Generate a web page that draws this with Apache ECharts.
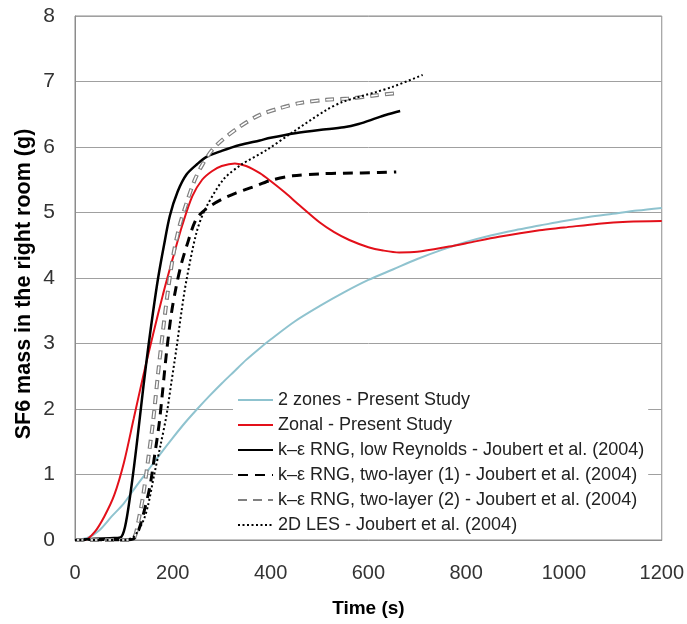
<!DOCTYPE html>
<html><head><meta charset="utf-8">
<script src="https://cdn.jsdelivr.net/npm/echarts@6/dist/echarts.min.js"></script>
<style>html,body{margin:0;padding:0;background:#fff}#c{width:687px;height:624px}</style>
</head><body><div id="c"></div>
<script>
// Data arrays: [time (s), SF6 mass (g)]
const twoZones = [[0,0],[25,0.03],[50,0.15],[75,0.36],[100,0.56],[125,0.82],[150,1.07],[175,1.32],[200,1.56],[225,1.79],[250,2.0],[275,2.2],[300,2.39],[325,2.57],[350,2.75],[375,2.91],[400,3.06],[450,3.34],[500,3.57],[550,3.78],[600,3.97],[650,4.13],[700,4.29],[750,4.43],[800,4.55],[850,4.65],[900,4.73],[950,4.8],[1000,4.87],[1050,4.93],[1100,4.98],[1150,5.03],[1200,5.07]];
const zonal = [[0,0],[20,0],[40,0.12],[60,0.36],[80,0.68],[100,1.18],[120,1.85],[140,2.52],[160,3.15],[180,3.75],[200,4.3],[220,4.82],[240,5.25],[260,5.5],[280,5.63],[300,5.71],[327,5.75],[350,5.71],[378,5.6],[400,5.48],[430,5.3],[459,5.11],[500,4.85],[530,4.7],[561,4.58],[600,4.47],[630,4.42],[663,4.39],[700,4.4],[765,4.48],[800,4.53],[867,4.63],[950,4.73],[1000,4.77],[1071,4.83],[1130,4.86],[1200,4.87]];
const lowRe = [[0,0],[40,0.02],[80,0.03],[95,0.05],[105,0.3],[119,1.02],[130,1.7],[140,2.35],[150,2.95],[160,3.5],[170,4.0],[182,4.5],[194,4.95],[210,5.32],[228,5.58],[250,5.74],[269,5.85],[300,5.94],[337,6.03],[378,6.1],[400,6.14],[450,6.21],[500,6.26],[550,6.3],[580,6.35],[616,6.44],[640,6.5],[665,6.55]];
const twoLayer1 = [[0,0],[100,0],[120,0.02],[130,0.15],[140,0.4],[153,0.81],[163,1.3],[173,1.83],[187,2.85],[197,3.45],[207,3.87],[217,4.2],[228,4.48],[248,4.9],[269,5.06],[300,5.2],[330,5.3],[364,5.39],[400,5.49],[445,5.56],[500,5.59],[550,5.6],[622,5.61],[657,5.62]];
const twoLayer2 = [[0,0],[110,0],[122,0.05],[130,0.3],[139,0.66],[150,1.25],[160,1.83],[170,2.55],[180,3.2],[190,3.8],[201,4.35],[214,4.8],[228,5.14],[245,5.5],[262,5.75],[280,5.95],[300,6.1],[337,6.31],[378,6.49],[418,6.59],[459,6.67],[513,6.72],[560,6.74],[616,6.79],[656,6.82]];
const les2D = [[0,0],[100,0],[120,0.05],[140,0.3],[150,0.55],[162,1.0],[175,1.45],[187,1.9],[197,2.4],[207,2.9],[218,3.5],[228,3.97],[248,4.68],[265,5.03],[303,5.5],[340,5.73],[391,5.95],[446,6.23],[513,6.56],[548,6.69],[616,6.84],[650,6.92],[711,7.1]];
const names = ['2 zones - Present Study','Zonal - Present Study','k\u2013\u03b5 RNG, low Reynolds - Joubert et al. (2004)','k\u2013\u03b5 RNG, two-layer (1) - Joubert et al. (2004)','k\u2013\u03b5 RNG, two-layer (2) - Joubert et al. (2004)','2D LES - Joubert et al. (2004)'];
const yTitle = 'SF6 mass in the right room (g)';
const xTitle = 'Time (s)';

const font = '"Liberation Sans", Arial, sans-serif';
const chart = echarts.init(document.getElementById('c'), null, {renderer:'canvas'});
function s(name, data, color, width, type, extra){
  return Object.assign({name, type:'line', data, symbol:'none', showSymbol:false, smooth:0.3,
    lineStyle:{color, width, type}, itemStyle:{color}, animation:false}, extra||{});
}
chart.setOption({
  animation:false,
  grid:{left:75, right:24, top:16, bottom:84, show:true, borderColor:'#8c8c8c', borderWidth:1},
  xAxis:{type:'value', min:0, max:1200, interval:200,
    name:xTitle, nameLocation:'middle', nameGap:59,
    nameTextStyle:{fontFamily:font, fontSize:19, fontWeight:'bold', color:'#000'},
    axisLine:{show:true, lineStyle:{color:'#8c8c8c'}}, axisTick:{show:false},
    axisLabel:{fontFamily:font, fontSize:20, color:'#333', margin:23, formatter:v=>String(v)},
    splitLine:{show:false}},
  yAxis:{type:'value', min:0, max:8, interval:1,
    axisLine:{show:true, lineStyle:{color:'#8c8c8c'}}, axisTick:{show:false},
    axisLabel:{fontFamily:font, fontSize:21, color:'#333', margin:20},
    splitLine:{show:true, lineStyle:{color:'#a0a0a0', width:1}}},
  graphic:[{type:'text', x:24, y:284, rotation:Math.PI/2,
    style:{text:yTitle, font:'bold 21.5px "Liberation Sans", Arial, sans-serif', fill:'#000', align:'center', verticalAlign:'middle'}}],
  legend:{orient:'vertical', left:233, top:389, itemWidth:35, itemHeight:18, itemGap:7,
    backgroundColor:'#fff', padding:[2,4,2,4], data:names, itemStyle:{opacity:0},
    textStyle:{fontFamily:font, fontSize:18, color:'#222'}},
  series:[
    s(names[0], twoZones, '#8fc3cf', 2, 'solid'),
    s(names[1], zonal, '#e3101a', 2, 'solid'),
    s(names[2], lowRe, '#000', 2.5, 'solid'),
    s(names[3], twoLayer1, '#000', 3, [10,7]),
    s(names[4], twoLayer2, '#808080', 4, [9,6]),
    s('tl2inner', twoLayer2, '#ffffff', 1.6, [7,8], {lineStyle:{color:'#fff', width:1.6, type:[7,8], dashOffset:-1}}),
    s(names[5], les2D, '#000', 2, [2,2.5])
  ]
});
</script></body></html>
